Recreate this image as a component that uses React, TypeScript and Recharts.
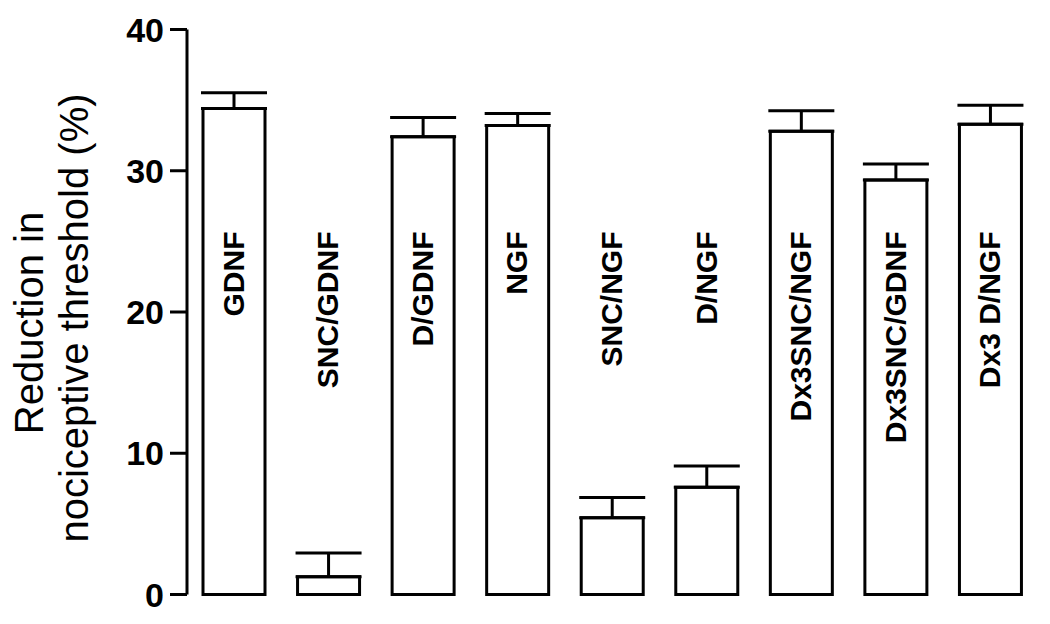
import React from "react"
import { ComposedChart, Bar, Line, XAxis, YAxis, ErrorBar, LabelList } from "recharts"

const groups = [
  "GDNF",
  "SNC/GDNF",
  "D/GDNF",
  "NGF",
  "SNC/NGF",
  "D/NGF",
  "Dx3SNC/NGF",
  "Dx3SNC/GDNF",
  "Dx3 D/NGF",
]
const means = [34.4, 1.26, 32.4, 33.2, 5.44, 7.6, 32.8, 29.35, 33.3]
const sem = [1.13, 1.68, 1.37, 0.85, 1.42, 1.49, 1.45, 1.13, 1.34]
const yTicks = [0, 10, 20, 30, 40]

const data = groups.map((name, i) => ({
  name,
  value: means[i],
  err: [0, sem[i]],
}))

const FONT = "'Liberation Sans', Arial, Helvetica, sans-serif"
const LABEL_TOP = 25.7

function BarText(props: any) {
  const { x, y, value } = props
  if (x == null || y == null) return null
  const tx = x + 9.5
  return (
    <text
      x={tx}
      y={y}
      transform={`rotate(-90, ${tx}, ${y})`}
      textAnchor="end"
      fontFamily={FONT}
      fontWeight="bold"
      fontSize={30}
      fill="#000"
    >
      {value}
    </text>
  )
}

export default function App() {
  return (
    <div style={{ position: "absolute", left: 0, top: 0, background: "#fff" }}>
      <ComposedChart
        width={1050}
        height={624}
        data={data}
        margin={{ top: 29.5, right: 12, bottom: 29.5, left: 107 }}
      >
        <XAxis
          dataKey="name"
          tick={false}
          tickLine={false}
          height={0}
          axisLine={{ stroke: "#000", strokeWidth: 3 }}
        />
        <YAxis
          width={80}
          domain={[0, 40]}
          ticks={yTicks}
          interval={0}
          tickSize={17}
          tickMargin={6}
          axisLine={{ stroke: "#000", strokeWidth: 3 }}
          tickLine={{ stroke: "#000", strokeWidth: 3 }}
          tick={{ fill: "#000", fontSize: 34, fontWeight: "bold", fontFamily: FONT }}
        />
        <Bar
          dataKey="value"
          fill="#fff"
          stroke="#000"
          strokeWidth={3}
          barSize={62}
          isAnimationActive={false}
        >
          <ErrorBar dataKey="err" direction="y" width={33} stroke="#000" strokeWidth={3} />
        </Bar>
        <Line
          dataKey={() => LABEL_TOP}
          stroke="none"
          dot={false}
          activeDot={false}
          isAnimationActive={false}
        >
          <LabelList dataKey="name" content={<BarText />} />
        </Line>
      </ComposedChart>
      <svg
        width={120}
        height={624}
        style={{ position: "absolute", left: 0, top: 0, pointerEvents: "none" }}
      >
        <text
          x={43}
          y={323}
          transform="rotate(-90, 43, 323)"
          textAnchor="middle"
          fontFamily={FONT}
          fontSize={40}
          fill="#000"
        >
          Reduction in
        </text>
        <text
          x={88}
          y={318}
          transform="rotate(-90, 88, 318)"
          textAnchor="middle"
          fontFamily={FONT}
          fontSize={40}
          fill="#000"
        >
          nociceptive threshold (%)
        </text>
      </svg>
    </div>
  )
}
